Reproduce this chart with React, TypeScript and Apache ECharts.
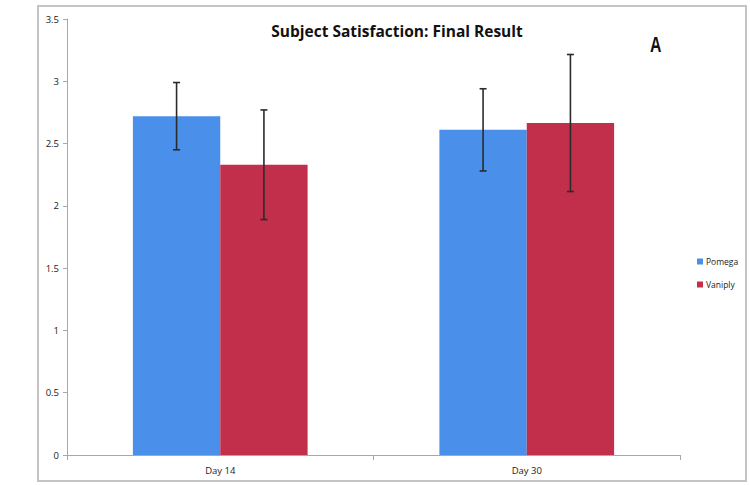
import React, { useEffect, useRef } from "react";
import * as echarts from "echarts";

const categories = ["Day 14", "Day 30"];
const seriesNames = ["Pomega", "Vaniply"];
const pomegaValues = [2.72, 2.61];
const vaniplyValues = [2.33, 2.665];
const pomegaErrors = [0.27, 0.33];
const vaniplyErrors = [0.44, 0.55];
const yTicks = { min: 0, max: 3.5, interval: 0.5 };
const colors = ["#4a8fe9", "#c22f4b"];

const BAR_SHARE = 0.57;

function errorSeries(values: number[], errors: number[], side: number) {
  return {
    type: "custom",
    silent: true,
    z: 10,
    data: values.map((v, i) => [i, v - errors[i], v + errors[i]]),
    encode: { x: 0, y: [1, 2] },
    renderItem: (params: any, api: any) => {
      const idx = api.value(0);
      const lo = api.coord([idx, api.value(1)]);
      const hi = api.coord([idx, api.value(2)]);
      const band = api.size([1, 0])[0];
      const x = lo[0] + (side * band * BAR_SHARE) / 4;
      const cap = 3.5;
      const style = { stroke: "#2b2b2b", lineWidth: 1.6 };
      return {
        type: "group",
        children: [
          { type: "line", shape: { x1: x, y1: lo[1], x2: x, y2: hi[1] }, style },
          { type: "line", shape: { x1: x - cap, y1: hi[1], x2: x + cap, y2: hi[1] }, style },
          { type: "line", shape: { x1: x - cap, y1: lo[1], x2: x + cap, y2: lo[1] }, style },
        ],
      };
    },
  };
}

export default function App() {
  const ref = useRef<HTMLDivElement>(null);
  useEffect(() => {
    if (!ref.current) return;
    const chart = echarts.init(ref.current, null, { renderer: "svg" });
    const font = "'Open Sans', 'Noto Sans', sans-serif";
    chart.setOption({
      animation: false,
      backgroundColor: "#ffffff",
      textStyle: { fontFamily: font },
      title: {
        text: "Subject Satisfaction: Final Result",
        left: 392,
        textAlign: "center",
        top: 18,
        textStyle: { fontSize: 15.5, fontWeight: "bold", color: "#111", fontFamily: font },
      },
      graphic: [
        {
          type: "rect",
          shape: { x: 38, y: 6, width: 708, height: 475 },
          style: { fill: "none", stroke: "#c4c4c4", lineWidth: 2 },
          silent: true,
        },
        {
          type: "text",
          x: 650,
          y: 34,
          scaleX: 0.72,
          style: {
            text: "A",
            fontSize: 22,
            fontWeight: "bold",
            fontFamily: "'Liberation Sans', sans-serif",
            fill: "#111",
          },
        },
      ],
      legend: {
        orient: "vertical",
        left: 692,
        top: 252,
        itemWidth: 6,
        itemHeight: 6,
        itemGap: 14,
        icon: "rect",
        data: seriesNames,
        textStyle: { fontSize: 8.5, color: "#222", fontFamily: font, padding: [0, 0, 0, -2] },
      },
      grid: { left: 67, right: 70, top: 19, bottom: 30, containLabel: false },
      xAxis: {
        type: "category",
        data: categories,
        axisLine: { lineStyle: { color: "#a8a8a8", width: 1 } },
        axisTick: { show: true, length: 5, lineStyle: { color: "#a8a8a8" } },
        axisLabel: { fontSize: 9.5, color: "#222", margin: 10 },
      },
      yAxis: {
        type: "value",
        min: yTicks.min,
        max: yTicks.max,
        interval: yTicks.interval,
        axisLine: { show: true, lineStyle: { color: "#a8a8a8", width: 1 } },
        axisTick: { show: true, length: 4, lineStyle: { color: "#a8a8a8" } },
        splitLine: { show: false },
        axisLabel: { fontSize: 9.5, color: "#222", margin: 8 },
      },
      series: [
        {
          name: seriesNames[0],
          type: "bar",
          data: pomegaValues,
          barGap: "0%",
          barCategoryGap: "43%",
          itemStyle: { color: colors[0] },
        },
        {
          name: seriesNames[1],
          type: "bar",
          data: vaniplyValues,
          barGap: "0%",
          barCategoryGap: "43%",
          itemStyle: { color: colors[1] },
        },
        errorSeries(pomegaValues, pomegaErrors, -1),
        errorSeries(vaniplyValues, vaniplyErrors, 1),
      ],
    });
    return () => chart.dispose();
  }, []);
  return (
    <div
      ref={ref}
      style={{ position: "fixed", left: 0, top: 0, width: 750, height: 485 }}
    />
  );
}
